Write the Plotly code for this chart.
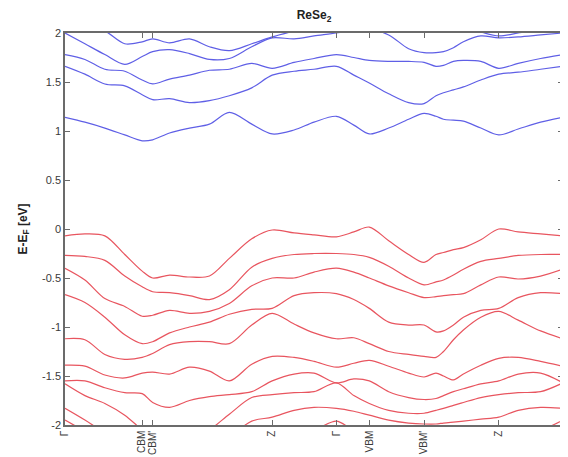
import plotly.graph_objects as go

# High-symmetry points along the path (fraction of total path length)
k_ticks = [0.0, 0.155, 0.176, 0.416, 0.545, 0.611, 0.721, 0.871, 1.0]
k_labels = ["Γ", "CBM", "CBM'", "Z", "Γ", "VBM", "VBM'", "Z", "Γ"]

# k-points at which the band energies were read
k = [0.0, 0.04, 0.08, 0.12, 0.155, 0.176, 0.21, 0.25, 0.29, 0.33, 0.375, 0.416,
     0.46, 0.50, 0.545, 0.58, 0.611, 0.65, 0.69, 0.721, 0.745, 0.76, 0.78, 0.80,
     0.835, 0.871, 0.91, 0.955, 1.0]

# Conduction bands (eV)
cb1 = [1.14, 1.09, 1.03, 0.96, 0.90, 0.91, 0.98, 1.03, 1.07, 1.19, 1.07, 0.97,
       1.01, 1.09, 1.15, 1.06, 0.97, 1.03, 1.12, 1.18, 1.15, 1.12, 1.11, 1.10,
       1.03, 0.96, 1.02, 1.09, 1.14]
cb2 = [1.66, 1.58, 1.48, 1.46, 1.37, 1.32, 1.33, 1.29, 1.31, 1.36, 1.44, 1.57,
       1.61, 1.63, 1.66, 1.57, 1.49, 1.38, 1.29, 1.28, 1.36, 1.39, 1.42, 1.45,
       1.52, 1.58, 1.60, 1.63, 1.66]
cb3 = [1.78, 1.73, 1.63, 1.61, 1.52, 1.48, 1.53, 1.57, 1.62, 1.63, 1.69, 1.64,
       1.70, 1.74, 1.78, 1.75, 1.72, 1.71, 1.71, 1.70, 1.66, 1.67, 1.71, 1.72,
       1.71, 1.64, 1.69, 1.74, 1.78]
cb4 = [2.00, 1.89, 1.78, 1.68, 1.76, 1.81, 1.83, 1.79, 1.73, 1.74, 1.86, 1.95,
       1.94, 1.97, 2.00, 2.03, 2.04, 1.98, 1.84, 1.80, 1.80, 1.81, 1.85, 1.91,
       1.97, 1.95, 1.96, 1.98, 2.00]
cb5 = [2.10, 2.07, 2.02, 1.89, 1.91, 1.94, 1.90, 1.94, 1.86, 1.82, 1.89, 1.96,
       2.02, 2.07, 2.10, 2.12, 2.14, 2.15, 2.15, 2.15, 2.14, 2.13, 2.10, 2.06,
       2.01, 1.97, 2.00, 2.04, 2.10]

# Valence bands (eV)
vb1 = [-0.07, -0.05, -0.07, -0.26, -0.43, -0.50, -0.47, -0.49, -0.48, -0.30, -0.10, -0.01,
       -0.04, -0.06, -0.08, -0.03, 0.02, -0.12, -0.26, -0.34, -0.26, -0.24, -0.21, -0.19,
       -0.11, 0.00, -0.03, -0.05, -0.07]
vb2 = [-0.27, -0.28, -0.32, -0.48, -0.59, -0.64, -0.65, -0.68, -0.72, -0.62, -0.39, -0.30,
       -0.26, -0.25, -0.25, -0.26, -0.29, -0.38, -0.50, -0.57, -0.54, -0.52, -0.47, -0.41,
       -0.33, -0.30, -0.27, -0.26, -0.26]
vb3 = [-0.40, -0.52, -0.71, -0.79, -0.89, -0.88, -0.83, -0.86, -0.84, -0.76, -0.58, -0.50,
       -0.50, -0.44, -0.40, -0.44, -0.50, -0.58, -0.65, -0.70, -0.69, -0.68, -0.67, -0.66,
       -0.57, -0.49, -0.51, -0.48, -0.41]
vb4 = [-0.67, -0.75, -0.90, -1.08, -1.17, -1.15, -1.06, -1.00, -0.95, -0.87, -0.82, -0.81,
       -0.68, -0.65, -0.66, -0.72, -0.81, -0.95, -0.98, -0.98, -1.05, -1.04, -0.98, -0.90,
       -0.83, -0.81, -0.70, -0.65, -0.66]
vb5 = [-1.12, -1.13, -1.28, -1.33, -1.31, -1.27, -1.18, -1.15, -1.15, -1.17, -0.98, -0.86,
       -0.97, -1.06, -1.12, -1.11, -1.17, -1.25, -1.28, -1.30, -1.31, -1.25, -1.13, -1.03,
       -0.90, -0.84, -0.93, -1.04, -1.12]
vb6 = [-1.39, -1.40, -1.49, -1.52, -1.47, -1.46, -1.48, -1.41, -1.45, -1.55, -1.38, -1.30,
       -1.31, -1.35, -1.41, -1.37, -1.34, -1.40, -1.47, -1.51, -1.47, -1.50, -1.54, -1.48,
       -1.39, -1.32, -1.31, -1.35, -1.40]
vb7 = [-1.55, -1.55, -1.62, -1.67, -1.68, -1.77, -1.82, -1.75, -1.71, -1.69, -1.66, -1.55,
       -1.48, -1.47, -1.57, -1.53, -1.55, -1.66, -1.72, -1.74, -1.73, -1.70, -1.66, -1.63,
       -1.58, -1.55, -1.48, -1.47, -1.57]
vb8 = [-1.58, -1.70, -1.78, -1.90, -2.05, -2.12, -2.18, -2.15, -2.05, -1.89, -1.72, -1.69,
       -1.67, -1.66, -1.57, -1.70, -1.78, -1.85, -1.88, -1.88, -1.85, -1.83, -1.80, -1.77,
       -1.72, -1.69, -1.67, -1.66, -1.57]
vb9 = [-1.83, -1.95, -2.08, -2.20, -2.25, -2.28, -2.30, -2.28, -2.22, -2.12, -1.96, -1.92,
       -1.85, -1.82, -1.83, -1.86, -1.90, -1.95, -1.98, -1.99, -1.99, -1.98, -1.97, -1.96,
       -1.94, -1.92, -1.85, -1.82, -1.83]
vb10 = [-1.95, -2.06, -2.15, -2.22, -2.28, -2.30, -2.32, -2.33, -2.32, -2.30, -2.26, -2.22,
        -2.15, -2.06, -1.96, -2.06, -2.12, -2.18, -2.22, -2.24, -2.24, -2.24, -2.22, -2.20,
        -2.18, -2.22, -2.15, -2.06, -1.95]

conduction = [cb1, cb2, cb3, cb4, cb5]
valence = [vb1, vb2, vb3, vb4, vb5, vb6, vb7, vb8, vb9, vb10]

y_ticks = [-2, -1.5, -1, -0.5, 0, 0.5, 1, 1.5, 2]
y_labels = ["-2", "-1.5", "-1", "-0.5", "0", "0.5", "1", "1.5", "2"]

BLUE = "rgb(95,95,230)"
RED = "rgb(232,85,95)"

fig = go.Figure()
for band in conduction:
    fig.add_trace(go.Scatter(x=k, y=band, mode="lines",
                             line=dict(color=BLUE, width=1.2, shape="spline", smoothing=0.9),
                             showlegend=False, hoverinfo="skip"))
for band in valence:
    fig.add_trace(go.Scatter(x=k, y=band, mode="lines",
                             line=dict(color=RED, width=1.2, shape="spline", smoothing=0.9),
                             showlegend=False, hoverinfo="skip"))

axis_col = "#6b6b6b"
font_fam = "Liberation Sans, Arial, Helvetica, sans-serif"

# The page body keeps an 8 px margin, so the figure is 8 px smaller than the window
W, H = 560, 449
fig.update_layout(
    width=W, height=H,
    margin=dict(l=57, r=5, t=25, b=32, autoexpand=False),
    paper_bgcolor="white", plot_bgcolor="white",
    font=dict(family=font_fam, size=11, color="#3a3a3a"),
    title=dict(text="<b>ReSe<sub>2</sub></b>", x=0.5, xref="paper", xanchor="center",
               y=1 - 7 / H, yref="container", yanchor="middle",
               font=dict(size=12, color="#222", family=font_fam)),
    xaxis=dict(range=[0, 1], tickmode="array", tickvals=k_ticks, ticktext=k_labels,
               tickangle=-90, ticks="inside", ticklen=5, tickcolor=axis_col,
               showline=True, linecolor=axis_col, linewidth=1.5, mirror="ticks",
               showgrid=False, zeroline=False, fixedrange=True, automargin=False,
               tickfont=dict(size=10, color="#3a3a3a")),
    yaxis=dict(range=[-2, 2], tickmode="array", tickvals=y_ticks, ticktext=y_labels,
               ticks="inside", ticklen=5, tickcolor=axis_col,
               showline=True, linecolor=axis_col, linewidth=1.5, mirror="ticks",
               showgrid=False, zeroline=False, fixedrange=True, automargin=False,
               tickfont=dict(size=11, color="#3a3a3a"),
               title=dict(text="<b>E-E<sub>F</sub> [eV]</b>", standoff=12,
                          font=dict(size=12, color="#222"))),
)

fig.write_html("out.html")
